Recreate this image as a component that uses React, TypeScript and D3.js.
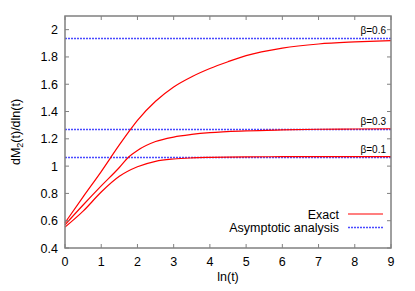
import React from "react";
import * as d3 from "d3";

const xTicks = [0, 1, 2, 3, 4, 5, 6, 7, 8, 9];
const yTicks = [0.4, 0.6, 0.8, 1, 1.2, 1.4, 1.6, 1.8, 2];
const yTickLabels = ["0.4", "0.6", "0.8", "1", "1.2", "1.4", "1.6", "1.8", "2"];

const betaLabels = ["β=0.6", "β=0.3", "β=0.1"];
const asymptotes = [1.94, 1.275, 1.07];

const xsHigh = [0, 0.5, 1, 1.5, 1.84, 2, 2.5, 3, 3.5, 4, 4.5, 5, 6, 7, 8, 9];
const exactHigh = [0.585, 0.775, 0.96, 1.155, 1.28, 1.335, 1.475, 1.58, 1.655, 1.715, 1.765, 1.81, 1.865, 1.895, 1.91, 1.92];

const xsMid = [0, 0.5, 1, 1.5, 1.75, 2, 2.5, 3, 3.5, 4, 5, 6, 7, 8, 9];
const exactMid = [0.57, 0.715, 0.855, 0.99, 1.065, 1.115, 1.18, 1.213, 1.232, 1.245, 1.258, 1.265, 1.27, 1.272, 1.274];

const xsLow = [0, 0.5, 1, 1.5, 2, 2.5, 3, 3.5, 4, 5, 6, 7, 8, 9];
const exactLow = [0.553, 0.67, 0.81, 0.925, 0.995, 1.035, 1.052, 1.06, 1.064, 1.068, 1.069, 1.07, 1.07, 1.07];

const legendLabels = ["Exact", "Asymptotic analysis"];

export default function App() {
  const W = 415, H = 291;
  const left = 65, right = 391, top = 16, bottom = 248;
  const x = d3.scaleLinear().domain([0, 9]).range([left, right]);
  const y = d3.scaleLinear().domain([0.4, 2.1]).range([bottom, top]);
  const line = d3
    .line<[number, number]>()
    .x((d) => x(d[0]))
    .y((d) => y(d[1]))
    .curve(d3.curveMonotoneX);

  const series = [
    xsHigh.map((v, i) => [v, exactHigh[i]] as [number, number]),
    xsMid.map((v, i) => [v, exactMid[i]] as [number, number]),
    xsLow.map((v, i) => [v, exactLow[i]] as [number, number]),
  ];

  const axisColor = "#808080";
  const font = "Liberation Sans, Arial, sans-serif";
  const red = "#ff0000";
  const blue = "#4a4aff";
  const tl = 4;
  const snap = (v: number) => Math.round(v) + 0.5;

  return (
    <svg
      width={W}
      height={H}
      style={{ position: "absolute", left: 0, top: 0, background: "#fff" }}
      fontFamily={font}
    >
      {/* asymptotes */}
      {asymptotes.map((a, i) => (
        <line
          key={"a" + i}
          x1={x(0)}
          x2={x(9)}
          y1={snap(y(a))}
          y2={snap(y(a))}
          stroke={blue}
          strokeWidth={1.3}
          strokeDasharray="2,1"
        />
      ))}
      {/* exact curves */}
      {series.map((s, i) => (
        <path key={"s" + i} d={line(s) || ""} fill="none" stroke={red} strokeWidth={1.2} />
      ))}
      {/* beta labels */}
      {asymptotes.map((a, i) => (
        <text
          key={"b" + i}
          x={x(9) - 5}
          y={y(a) - 4}
          textAnchor="end"
          fontSize={10}
          fill="#000"
        >
          {betaLabels[i]}
        </text>
      ))}
      {/* frame */}
      <rect
        x={left}
        y={top}
        width={right - left}
        height={bottom - top}
        fill="none"
        stroke={axisColor}
        strokeWidth={1.5}
      />
      {/* x ticks */}
      {xTicks.map((t) => (
        <g key={"xt" + t}>
          <line x1={x(t)} x2={x(t)} y1={bottom} y2={bottom - tl} stroke={axisColor} strokeWidth={1} />
          <line x1={x(t)} x2={x(t)} y1={top} y2={top + tl} stroke={axisColor} strokeWidth={1} />
          <text x={x(t)} y={bottom + 18} textAnchor="middle" fontSize={12.5} fill="#000">
            {t}
          </text>
        </g>
      ))}
      {/* y ticks */}
      {yTicks.map((t, i) => (
        <g key={"yt" + t}>
          <line x1={left} x2={left + tl} y1={y(t)} y2={y(t)} stroke={axisColor} strokeWidth={1} />
          <line x1={right} x2={right - tl} y1={y(t)} y2={y(t)} stroke={axisColor} strokeWidth={1} />
          <text x={left - 7} y={y(t) + 4.5} textAnchor="end" fontSize={12.5} fill="#000">
            {yTickLabels[i]}
          </text>
        </g>
      ))}
      {/* axis labels */}
      <text x={(left + right) / 2} y={281} textAnchor="middle" fontSize={12.5} fill="#000">
        ln(t)
      </text>
      <text
        transform={`translate(20,${(top + bottom) / 2}) rotate(-90)`}
        textAnchor="middle"
        fontSize={12.5}
        fill="#000"
      >
        dM
        <tspan fontSize={9} dy={3}>2</tspan>
        <tspan dy={-3}>(t)/dln(t)</tspan>
      </text>
      {/* legend */}
      <text x={339} y={218.5} textAnchor="end" fontSize={12.5} fill="#000">
        {legendLabels[0]}
      </text>
      <line x1={348} x2={383} y1={214} y2={214} stroke={red} strokeWidth={1.2} />
      <text x={339} y={231.5} textAnchor="end" fontSize={12.5} fill="#000">
        {legendLabels[1]}
      </text>
      <line x1={348} x2={383} y1={227.5} y2={227.5} stroke={blue} strokeWidth={1.3} strokeDasharray="2,1" />
    </svg>
  );
}
